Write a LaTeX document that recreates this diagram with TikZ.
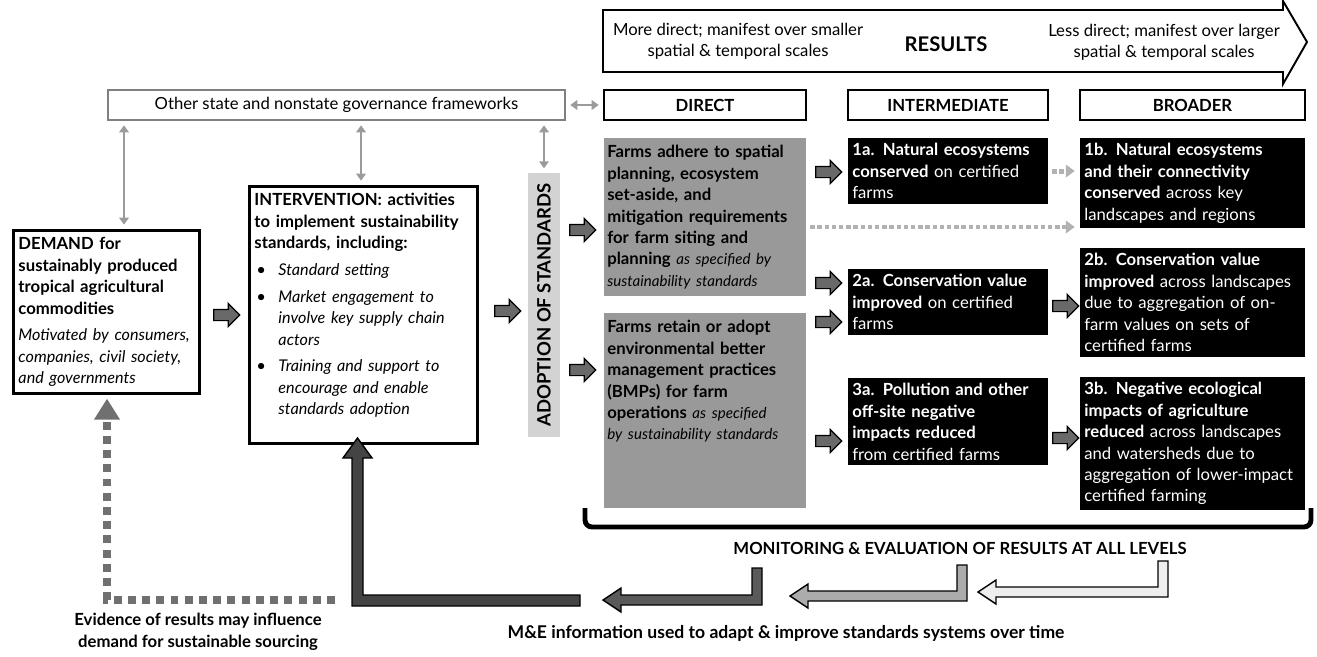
\documentclass[tikz,border=0pt]{standalone}
\usepackage{fontspec}
\setmainfont{Lato}
\usetikzlibrary{shapes.arrows,arrows.meta}
\definecolor{boxgray}{RGB}{153,153,153}
\definecolor{bargray}{RGB}{211,211,211}
\definecolor{govgray}{RGB}{128,128,128}
\definecolor{linegray}{RGB}{155,155,155}
\definecolor{arrowgray}{RGB}{105,105,105}
\definecolor{dotgray}{RGB}{112,112,112}
\definecolor{lightdot}{RGB}{178,178,178}
\definecolor{darkarrow}{RGB}{68,68,68}
\definecolor{leftarrow}{RGB}{90,90,90}
\definecolor{midarrow}{RGB}{172,172,172}
\definecolor{palearrow}{RGB}{238,238,238}
\newcommand{\fs}{\fontsize{9.5}{12.2}\selectfont}
\newcommand{\slant}[1]{{\fontsize{8.6}{12.2}\selectfont\itshape #1}}
\newcommand{\wslant}[1]{{\fontsize{9.2}{12.2}\selectfont\itshape #1}}
\newcommand{\bitem}[1]{\par\vspace{3pt}\hangindent=0.48cm\hangafter=1\noindent\makebox[0.48cm][l]{\hspace{1pt}\textbullet}\wslant{#1}}
\newcommand{\Larrow}[5]{\draw[line width=0.8pt, fill=#5] (#1-5,#2) -- (#1+5,#2) -- (#1+5,#3+5) -- (#4+18,#3+5) -- (#4+18,#3+12) -- (#4,#3) -- (#4+18,#3-12) -- (#4+18,#3-5) -- (#1-5,#3-5) -- cycle;}

\begin{document}
\begin{tikzpicture}[x=0.02cm,y=-0.02cm,font=\fs,
  hdr/.style={draw, line width=1.1pt, minimum width=#1, minimum height=0.6cm, font=\fs\bfseries, inner sep=0pt},
  gbox/.style={anchor=north west, fill=boxgray, text width=3.92cm, align=left, inner xsep=0.06cm, inner ysep=0.14cm},
  rbox/.style={anchor=north west, fill=black, text=white, text width=#1, align=left, inner xsep=0.08cm, inner ysep=0.1cm},
  wbox/.style={anchor=north west, draw, line width=1.7pt, text width=#1, align=left, inner xsep=0.1cm, inner ysep=0.14cm},
  blk/.style={single arrow, draw, line width=0.7pt, fill=arrowgray, minimum height=0.52cm, inner xsep=0pt, inner ysep=0.1cm, single arrow head extend=0.12cm},
  dbl/.style={linegray, line width=1.1pt, {Triangle[length=4pt,width=5.5pt]}-{Triangle[length=4pt,width=5.5pt]}, shorten <=2.5pt, shorten >=2.5pt},
  dotline/.style={lightdot, line width=2.8pt, dash pattern=on 2.5pt off 1.6pt, -{Triangle[length=5pt,width=7pt]}, shorten <=2pt, shorten >=3pt}]
\useasboundingbox (0,0) rectangle (1317,656);

% results arrow
\draw[line width=1.1pt] (603,10) -- (1283,10) -- (1283,1) -- (1307,42) -- (1283,84) -- (1283,72) -- (603,72) -- cycle;
\node[align=center] (near) at (738,41) {More direct; manifest over smaller\\spatial \& temporal scales};
\node[font=\fontsize{11.5}{14}\selectfont\bfseries] (res) at (946,44) {RESULTS};
\node[align=center] (far) at (1164,42) {Less direct; manifest over larger\\spatial \& temporal scales};

% headers
\node[hdr=9.14cm, draw=govgray, font=\fs] (gov) at (336.5,105) {Other state and nonstate governance frameworks};
\node[hdr=4.04cm] (direct) at (705,105) {DIRECT};
\node[hdr=4.0cm] (inter) at (948,105) {INTERMEDIATE};
\node[hdr=4.5cm] (broad) at (1192.5,105) {BROADER};

% left column
\node[wbox=3.52cm] (dem) at (12,229) {{\bfseries DEMAND for\\ sustainably produced\\ tropical agricultural\\ commodities}\\[3pt]
  \wslant{Motivated by consumers,\\ companies, civil society,\\ and governments}};
\node[wbox=4.36cm] (int) at (248,185) {{\bfseries INTERVENTION: activities\\ to implement sustainability\\ standards, including:}
  \bitem{Standard setting}
  \bitem{Market engagement to\newline involve key supply chain\newline actors}
  \bitem{Training and support to\newline encourage and enable\newline standards adoption}
  \par\mbox{}};
\node[fill=bargray, rotate=90, minimum width=5.28cm, minimum height=0.64cm, font=\fontsize{10.5}{12}\selectfont\bfseries] (adopt) at (544,305) {ADOPTION OF STANDARDS};

% direct results
\node[gbox] (g1) at (604,138) {{\bfseries Farms adhere to spatial\\ planning, ecosystem\\ set-aside, and\\ mitigation requirements\\ for farm siting and\\ planning} \slant{as specified by\\ sustainability standards}};
\node[gbox] (g2) at (604,313) {{\bfseries Farms retain or adopt\\ environmental better\\ management practices\\ (BMPs) for farm\\ operations} \slant{as specified\\ by sustainability standards}\\[0.8cm]\mbox{}};

% intermediate and broader results
\node[rbox=3.84cm] (r1a) at (848,138) {{\bfseries 1a. Natural ecosystems\\ conserved} on certified\\ farms};
\node[rbox=3.84cm] (r2a) at (848,269) {{\bfseries 2a. Conservation value\\ improved} on certified\\ farms};
\node[rbox=3.84cm] (r3a) at (848,378) {{\bfseries 3a. Pollution and other\\ off-site negative\\ impacts reduced}\\ from certified farms};
\node[rbox=4.34cm] (r1b) at (1080,138) {{\bfseries 1b. Natural ecosystems\\ and their connectivity\\ conserved} across key\\ landscapes and regions};
\node[rbox=4.34cm] (r2b) at (1080,248) {{\bfseries 2b. Conservation value\\ improved} across landscapes\\ due to aggregation of on-\\ farm values on sets of\\ certified farms};
\node[rbox=4.34cm] (r3b) at (1080,377) {{\bfseries 3b. Negative ecological\\ impacts of agriculture\\ reduced} across landscapes\\ and watersheds due to\\ aggregation of lower-impact\\ certified farming};

% block arrows
\node[blk] (a1) at (224,315) {};
\node[blk] (a2) at (505,311) {};
\node[blk] (a3) at (580,230) {};
\node[blk] (a4) at (580,370) {};
\node[blk] (a5) at (826,172) {};
\node[blk] (a6) at (826,283) {};
\node[blk] (a7) at (826,322) {};
\node[blk] (a8) at (826,441) {};
\node[blk] (a9) at (1063,306) {};
\node[blk] (a10) at (1063,438) {};

% governance links
\draw[dbl] (gov.east) -- (direct.west);
\draw[dbl] (gov.south -| 124,0) -- (dem.north -| 124,0);
\draw[dbl] (gov.south -| 361,0) -- (int.north -| 361,0);
\draw[dbl] (gov.south -| adopt.east) -- (adopt.east);

% dotted links
\draw[dotline] (r1a.east) -- (r1a.east -| r1b.west);
\draw[dotline] (g1.east |- 0,227) -- (r1b.west |- 0,227);

% monitoring
\draw[line width=2.8pt, rounded corners=4pt] (585,508) -- (585,527) -- (1311,527) -- (1311,508);
\node[font=\fs\bfseries] (me) at (960,548) {MONITORING \& EVALUATION OF RESULTS AT ALL LEVELS};
\Larrow{1163}{561}{592}{978}{palearrow}
\Larrow{962}{565}{596}{790}{midarrow}
\Larrow{757}{568}{600}{603}{leftarrow}
\draw[line width=0.8pt, fill=darkarrow] (580,595) -- (363,595) -- (363,458) -- (372,458) -- (357.5,438) -- (343,458) -- (352,458) -- (352,606) -- (580,606) -- cycle;
\draw[dotgray, line width=4.5pt, dash pattern=on 4.5pt off 3.6pt, -{Triangle[length=12pt,width=14pt]}, shorten >=2pt] (335,600) -- (107,600) -- (dem.south -| 107,0);
\node[font=\fs\bfseries, align=center] (evid) at (198,632) {Evidence of results may influence\\ demand for sustainable sourcing};
\node[font=\fontsize{10}{12}\selectfont\bfseries] (adapt) at (786,633) {M\&E information used to adapt \& improve standards systems over time};
\end{tikzpicture}
\end{document}
